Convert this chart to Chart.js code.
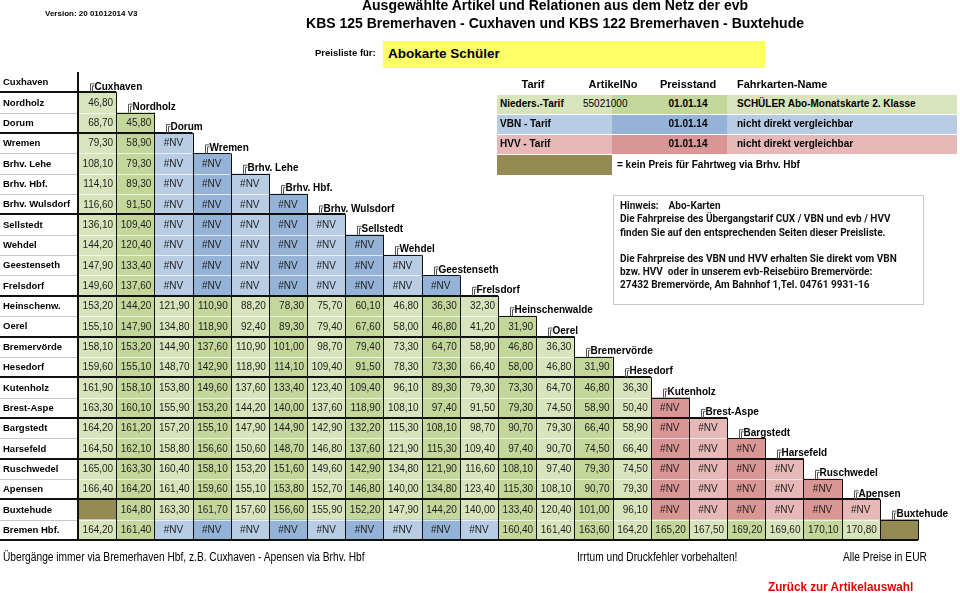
<!DOCTYPE html>
<html>
<head>
<meta charset="utf-8">
<script src="https://cdn.jsdelivr.net/npm/chart.js@4.4.1/dist/chart.umd.min.js"></script>
<style>
  body { margin: 0; background: #fff; }
  #page { position: relative; width: 960px; height: 593px; overflow: hidden; }
  #chartBox { position: absolute; left: 0; top: 0; width: 960px; height: 593px; }
  .t { position: absolute; white-space: nowrap; line-height: 1; font-family: "Liberation Sans", Arial, sans-serif; color: #000; }
  .b { font-weight: bold; }
  .box { position: absolute; }
  .hin { font-family: Roboto, "Open Sans", sans-serif; font-weight: 700; font-size: 10px; color: #111; }
  .nar { transform: scaleX(0.85); transform-origin: left center; }
</style>
</head>
<body>
<div id="page">
  <div id="chartBox"><canvas id="fareChart"></canvas></div>

  <div class="t b" style="left:45px;top:10px;font-size:8px;">Version: 20 01012014 V3</div>
  <div class="t b" style="left:555px;top:-2px;font-size:14px;transform:translateX(-50%);">Ausgewählte Artikel und Relationen aus dem Netz der evb</div>
  <div class="t b" style="left:555px;top:16px;font-size:14px;transform:translateX(-50%);">KBS 125 Bremerhaven - Cuxhaven und KBS 122 Bremerhaven - Buxtehude</div>
  <div class="t b" style="left:315px;top:48px;font-size:9.5px;">Preisliste für:</div>
  <div class="box" style="left:383px;top:41px;width:382px;height:27px;background:#ffff66;"></div>
  <div class="t b" style="left:388px;top:47px;font-size:13.5px;">Abokarte Schüler</div>

  <div class="t b" style="left:533px;top:79px;font-size:11px;transform:translateX(-50%);">Tarif</div>
  <div class="t b" style="left:613px;top:79px;font-size:11px;transform:translateX(-50%);">ArtikelNo</div>
  <div class="t b" style="left:688px;top:79px;font-size:11px;transform:translateX(-50%);">Preisstand</div>
  <div class="t b" style="left:737px;top:79px;font-size:11px;">Fahrkarten-Name</div>

  <div class="box" style="left:497px;top:95px;width:460px;height:19px;background:#d8e4bc;"></div>
  <div class="box" style="left:612px;top:95px;width:115px;height:19px;background:#c4d79b;"></div>
  <div class="box" style="left:497px;top:115px;width:460px;height:19px;background:#b8cce4;"></div>
  <div class="box" style="left:612px;top:115px;width:115px;height:19px;background:#95b3d7;"></div>
  <div class="box" style="left:497px;top:135px;width:460px;height:19px;background:#e6b8b7;"></div>
  <div class="box" style="left:612px;top:135px;width:115px;height:19px;background:#da9694;"></div>
  <div class="box" style="left:497px;top:155px;width:115px;height:20px;background:#948a54;"></div>

  <div class="t b" style="left:500px;top:99px;font-size:10px;">Nieders.-Tarif</div>
  <div class="t" style="left:583px;top:99px;font-size:10px;">55021000</div>
  <div class="t b" style="left:688px;top:99px;font-size:10px;transform:translateX(-50%);">01.01.14</div>
  <div class="t b" style="left:737px;top:99px;font-size:10px;">SCHÜLER Abo-Monatskarte 2. Klasse</div>
  <div class="t b" style="left:500px;top:119px;font-size:10px;">VBN - Tarif</div>
  <div class="t b" style="left:688px;top:119px;font-size:10px;transform:translateX(-50%);">01.01.14</div>
  <div class="t b" style="left:737px;top:119px;font-size:10px;">nicht direkt vergleichbar</div>
  <div class="t b" style="left:500px;top:139px;font-size:10px;">HVV - Tarif</div>
  <div class="t b" style="left:688px;top:139px;font-size:10px;transform:translateX(-50%);">01.01.14</div>
  <div class="t b" style="left:737px;top:139px;font-size:10px;">nicht direkt vergleichbar</div>
  <div class="t b" style="left:617px;top:160px;font-size:10px;">= kein Preis für Fahrtweg via Brhv. Hbf</div>

  <div class="box" style="left:613px;top:195px;width:309px;height:108px;border:1px solid #c8c8c8;"></div>
  <div class="t hin" style="left:620px;top:201px;">Hinweis:&nbsp;&nbsp;&nbsp; Abo-Karten</div>
  <div class="t hin" style="left:620px;top:214px;">Die Fahrpreise des Übergangstarif CUX / VBN und evb / HVV</div>
  <div class="t hin" style="left:620px;top:228px;">finden Sie auf den entsprechenden Seiten dieser Preisliste.</div>
  <div class="t hin" style="left:620px;top:254px;">Die Fahrpreise des VBN und HVV erhalten Sie direkt vom VBN</div>
  <div class="t hin" style="left:620px;top:267px;">bzw. HVV&nbsp; oder in unserem evb-Reisebüro Bremervörde:</div>
  <div class="t hin" style="left:620px;top:280px;">27432 Bremervörde, Am Bahnhof 1,Tel. 04761 9931-16</div>

  <div class="t nar" style="left:3px;top:551px;font-size:12px;">Übergänge immer via Bremerhaven Hbf, z.B. Cuxhaven - Apensen via Brhv. Hbf</div>
  <div class="t nar" style="left:577px;top:551px;font-size:12px;">Irrtum und Druckfehler vorbehalten!</div>
  <div class="t nar" style="left:843px;top:551px;font-size:12px;">Alle Preise in EUR</div>
  <div class="t nar b" style="left:768px;top:580px;font-size:13px;color:#e00000;transform:scaleX(0.9);">Zurück zur Artikelauswahl</div>
</div>

<script>
const NV = '#NV';
const KP = 'kein';

const stations = ['Cuxhaven', 'Nordholz', 'Dorum', 'Wremen', 'Brhv. Lehe', 'Brhv. Hbf.', 'Brhv. Wulsdorf',
    'Sellstedt', 'Wehdel', 'Geestenseth', 'Frelsdorf', 'Heinschenw.', 'Oerel', 'Bremervörde', 'Hesedorf',
    'Kutenholz', 'Brest-Aspe', 'Bargstedt', 'Harsefeld', 'Ruschwedel', 'Apensen', 'Buxtehude', 'Bremen Hbf.'];
const columnHeads = ['Cuxhaven', 'Nordholz', 'Dorum', 'Wremen', 'Brhv. Lehe', 'Brhv. Hbf.', 'Brhv. Wulsdorf',
    'Sellstedt', 'Wehdel', 'Geestenseth', 'Frelsdorf', 'Heinschenwalde', 'Oerel', 'Bremervörde', 'Hesedorf',
    'Kutenholz', 'Brest-Aspe', 'Bargstedt', 'Harsefeld', 'Ruschwedel', 'Apensen', 'Buxtehude'];

const fNordholz = [46.80];
const fDorum = [68.70, 45.80];
const fWremen = [79.30, 58.90, NV];
const fLehe = [108.10, 79.30, NV, NV];
const fHbf = [114.10, 89.30, NV, NV, NV];
const fWulsdorf = [116.60, 91.50, NV, NV, NV, NV];
const fSellstedt = [136.10, 109.40, NV, NV, NV, NV, NV];
const fWehdel = [144.20, 120.40, NV, NV, NV, NV, NV, NV];
const fGeestenseth = [147.90, 133.40, NV, NV, NV, NV, NV, NV, NV];
const fFrelsdorf = [149.60, 137.60, NV, NV, NV, NV, NV, NV, NV, NV];
const fHeinschenw = [153.20, 144.20, 121.90, 110.90, 88.20, 78.30, 75.70, 60.10, 46.80, 36.30, 32.30];
const fOerel = [155.10, 147.90, 134.80, 118.90, 92.40, 89.30, 79.40, 67.60, 58.00, 46.80, 41.20, 31.90];
const fBremervoerde = [158.10, 153.20, 144.90, 137.60, 110.90, 101.00, 98.70, 79.40, 73.30, 64.70, 58.90, 46.80, 36.30];
const fHesedorf = [159.60, 155.10, 148.70, 142.90, 118.90, 114.10, 109.40, 91.50, 78.30, 73.30, 66.40, 58.00, 46.80, 31.90];
const fKutenholz = [161.90, 158.10, 153.80, 149.60, 137.60, 133.40, 123.40, 109.40, 96.10, 89.30, 79.30, 73.30, 64.70, 46.80, 36.30];
const fBrestAspe = [163.30, 160.10, 155.90, 153.20, 144.20, 140.00, 137.60, 118.90, 108.10, 97.40, 91.50, 79.30, 74.50, 58.90, 50.40, NV];
const fBargstedt = [164.20, 161.20, 157.20, 155.10, 147.90, 144.90, 142.90, 132.20, 115.30, 108.10, 98.70, 90.70, 79.30, 66.40, 58.90, NV, NV];
const fHarsefeld = [164.50, 162.10, 158.80, 156.60, 150.60, 148.70, 146.80, 137.60, 121.90, 115.30, 109.40, 97.40, 90.70, 74.50, 66.40, NV, NV, NV];
const fRuschwedel = [165.00, 163.30, 160.40, 158.10, 153.20, 151.60, 149.60, 142.90, 134.80, 121.90, 116.60, 108.10, 97.40, 79.30, 74.50, NV, NV, NV, NV];
const fApensen = [166.40, 164.20, 161.40, 159.60, 155.10, 153.80, 152.70, 146.80, 140.00, 134.80, 123.40, 115.30, 108.10, 90.70, 79.30, NV, NV, NV, NV, NV];
const fBuxtehude = [KP, 164.80, 163.30, 161.70, 157.60, 156.60, 155.90, 152.20, 147.90, 144.20, 140.00, 133.40, 120.40, 101.00, 96.10, NV, NV, NV, NV, NV, NV];
const fBremenHbf = [164.20, 161.40, NV, NV, NV, NV, NV, NV, NV, NV, NV, 160.40, 161.40, 163.60, 164.20, 165.20, 167.50, 169.20, 169.60, 170.10, 170.80, KP];

const fareRows = [[], fNordholz, fDorum, fWremen, fLehe, fHbf, fWulsdorf, fSellstedt, fWehdel, fGeestenseth,
    fFrelsdorf, fHeinschenw, fOerel, fBremervoerde, fHesedorf, fKutenholz, fBrestAspe, fBargstedt, fHarsefeld,
    fRuschwedel, fApensen, fBuxtehude, fBremenHbf];

// rows after which the thick separator is drawn
const groupBreaks = [0, 2, 6, 10, 12, 14, 16, 18, 20, 22];

const colors = {
    greenLight: '#d8e4bc', greenDark: '#c4d79b',
    blueLight: '#b8cce4', blueDark: '#95b3d7',
    pinkLight: '#e6b8b7', pinkDark: '#da9694',
    olive: '#948a54'
};

function cellColor(r, j) {
    let v = fareRows[r][j];
    let dark = j % 2 === 1;
    if (v === KP) return colors.olive;
    if (v === NV) {
        if (j >= 15) return dark ? colors.pinkDark : colors.pinkLight;
        return dark ? colors.blueDark : colors.blueLight;
    }
    return dark ? colors.greenDark : colors.greenLight;
}

function fmt(v) {
    return v.toFixed(2).replace('.', ',');
}

let datasets = [];
for (let j = 0; j < columnHeads.length; j++) {
    datasets.push({
        label: columnHeads[j],
        data: stations.map((s, r) => fareRows[r][j] !== undefined ? [j, j + 1] : null),
        backgroundColor: ctx => cellColor(ctx.dataIndex, j),
        borderWidth: 0,
        grouped: false,
        barPercentage: 1,
        categoryPercentage: 1
    });
}

const fareTable = {
    id: 'fareTable',
    afterDatasetsDraw(chart) {
        const ctx = chart.ctx;
        const x = chart.scales.x, y = chart.scales.y;
        const band = (y.bottom - y.top) / stations.length;
        const top = r => y.getPixelForValue(r) - band / 2;
        const left = j => x.getPixelForValue(j);
        const line = (x1, y1, x2, y2) => { ctx.beginPath(); ctx.moveTo(x1, y1); ctx.lineTo(x2, y2); ctx.stroke(); };
        ctx.save();

        // thin row lines
        ctx.lineWidth = 1;
        for (let r = 1; r < stations.length; r++) {
            let yy = Math.round(top(r)) + 0.5;
            ctx.strokeStyle = '#c8c8c8';
            line(0, yy, left(0), yy);
            if (r > 1) {
                ctx.strokeStyle = 'rgba(255,255,255,0.7)';
                line(left(0), yy, left(r - 1), yy);
            }
            ctx.strokeStyle = '#111';
            line(left(r - 1), yy, left(r), yy);
        }

        // vertical column lines
        ctx.strokeStyle = '#111';
        for (let j = 0; j < columnHeads.length; j++) {
            let xx = Math.round(left(j + 1)) + 0.5;
            line(xx, top(j + 1), xx, y.bottom);
        }
        ctx.lineWidth = 2;
        line(Math.round(left(0)), y.top, Math.round(left(0)), y.bottom);

        // thick group separators
        for (let g of groupBreaks) {
            let yy = Math.round(top(g + 1));
            line(0, yy, left(Math.min(g + 1, columnHeads.length)), yy);
        }

        // cell values
        ctx.fillStyle = '#1e1e1e';
        ctx.font = '10px "Liberation Sans", Arial, sans-serif';
        ctx.textBaseline = 'middle';
        for (let j = 0; j < columnHeads.length; j++) {
            let meta = chart.getDatasetMeta(j);
            meta.data.forEach((el, r) => {
                let v = fareRows[r][j];
                if (v === undefined || v === KP) return;
                let l = Math.min(el.x, el.base), rt = Math.max(el.x, el.base);
                if (v === NV) {
                    ctx.textAlign = 'center';
                    ctx.fillText(v, (l + rt) / 2, el.y + 0.5);
                } else {
                    ctx.textAlign = 'right';
                    ctx.fillText(fmt(v), rt - 3, el.y + 0.5);
                }
            });
        }

        // row labels
        ctx.fillStyle = '#000';
        ctx.textAlign = 'left';
        ctx.font = 'bold 9.5px "Liberation Sans", Arial, sans-serif';
        stations.forEach((s, r) => ctx.fillText(s, 3, y.getPixelForValue(r) + 0.5));

        // column heads on the staircase
        ctx.font = 'bold 10px "Liberation Sans", Arial, sans-serif';
        ctx.lineWidth = 1;
        ctx.strokeStyle = '#555';
        columnHeads.forEach((h, j) => {
            let x0 = Math.round(left(j)) + 12.5;
            let base = top(j + 1);
            let yy = base - 5.5;
            line(x0, base, x0, yy - 3);
            line(x0, yy - 3, x0 + 4, yy - 3);
            line(x0 + 2, base, x0 + 2, yy - 1);
            line(x0 + 2, yy - 1, x0 + 4, yy - 1);
            ctx.fillText(h, x0 + 4, yy);
        });

        ctx.restore();
    }
};

let chart = new Chart('fareChart', {
    type: 'bar',
    data: { labels: stations, datasets: datasets },
    options: {
        indexAxis: 'y',
        responsive: true,
        maintainAspectRatio: false,
        animation: false,
        layout: { padding: { left: 78, right: 42, top: 72, bottom: 53 } },
        scales: {
            x: { type: 'linear', min: 0, max: columnHeads.length, display: false },
            y: { type: 'category', display: false, offset: true }
        },
        plugins: { legend: { display: false }, tooltip: { enabled: false } }
    },
    plugins: [fareTable]
});
</script>
</body>
</html>
